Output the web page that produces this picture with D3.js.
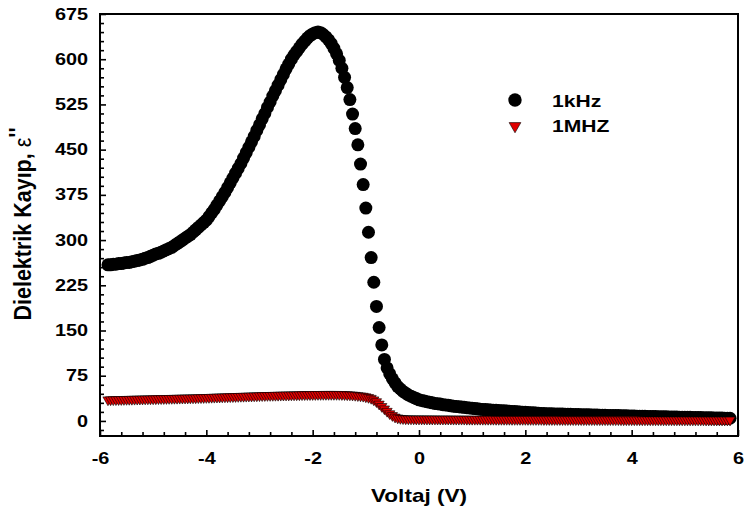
<!DOCTYPE html>
<html>
<head>
<meta charset="utf-8">
<script src="https://cdn.jsdelivr.net/npm/d3@7"></script>
<style>
  body { margin: 0; background: #fff; }
  text { font-family: "Liberation Sans", Arial, sans-serif; font-weight: bold; }
</style>
</head>
<body>
<div id="chart"></div>
<script>
// Voltage sweep (V)
const voltages = [
  -5.85, -5.8, -5.75, -5.7, -5.65, -5.6, -5.55, -5.5,
  -5.45, -5.4, -5.35, -5.3, -5.25, -5.2, -5.15, -5.1, -5.05, -5.0,
  -4.95, -4.9, -4.85, -4.8, -4.75, -4.7, -4.65, -4.6, -4.55, -4.5,
  -4.45, -4.4, -4.35, -4.3, -4.25, -4.2, -4.15, -4.1, -4.05, -4.0,
  -3.95, -3.9, -3.85, -3.8, -3.75, -3.7, -3.65, -3.6, -3.55, -3.5,
  -3.45, -3.4, -3.35, -3.3, -3.25, -3.2, -3.15, -3.1, -3.05, -3.0,
  -2.95, -2.9, -2.85, -2.8, -2.75, -2.7, -2.65, -2.6, -2.55, -2.5,
  -2.45, -2.4, -2.35, -2.3, -2.25, -2.2, -2.15, -2.1, -2.05, -2.0,
  -1.95, -1.9, -1.85, -1.8, -1.75, -1.7, -1.65, -1.6, -1.55, -1.5,
  -1.45, -1.4, -1.35, -1.3, -1.25, -1.2, -1.15, -1.1, -1.05, -1.0,
  -0.95, -0.9, -0.85, -0.8, -0.75, -0.7, -0.65, -0.6, -0.55, -0.5,
  -0.45, -0.4, -0.35, -0.3, -0.25, -0.2, -0.15, -0.1, -0.05, 0.0,
  0.05, 0.1, 0.15, 0.2, 0.25, 0.3, 0.35, 0.4, 0.45, 0.5,
  0.55, 0.6, 0.65, 0.7, 0.75, 0.8, 0.85, 0.9, 0.95, 1.0,
  1.05, 1.1, 1.15, 1.2, 1.25, 1.3, 1.35, 1.4, 1.45, 1.5,
  1.55, 1.6, 1.65, 1.7, 1.75, 1.8, 1.85, 1.9, 1.95, 2.0,
  2.05, 2.1, 2.15, 2.2, 2.25, 2.3, 2.35, 2.4, 2.45, 2.5,
  2.55, 2.6, 2.65, 2.7, 2.75, 2.8, 2.85, 2.9, 2.95, 3.0,
  3.05, 3.1, 3.15, 3.2, 3.25, 3.3, 3.35, 3.4, 3.45, 3.5,
  3.55, 3.6, 3.65, 3.7, 3.75, 3.8, 3.85, 3.9, 3.95, 4.0,
  4.05, 4.1, 4.15, 4.2, 4.25, 4.3, 4.35, 4.4, 4.45, 4.5,
  4.55, 4.6, 4.65, 4.7, 4.75, 4.8, 4.85, 4.9, 4.95, 5.0,
  5.05, 5.1, 5.15, 5.2, 5.25, 5.3, 5.35, 5.4, 5.45, 5.5,
  5.55, 5.6, 5.65, 5.7, 5.75, 5.8, 5.85
];

// Dielectric loss at 1 kHz
const loss1kHz = [
  259, 259, 260, 260, 261, 261, 262, 263,
  263, 264, 265, 266, 267, 268, 270, 271, 273, 275,
  277, 278, 280, 282, 284, 286, 288, 291, 294, 297,
  300, 303, 306, 309, 313, 317, 321, 325, 329, 333,
  339, 345, 351, 358, 365, 372, 379, 387, 395, 403,
  411, 419, 427, 436, 445, 454, 463, 472, 482, 491,
  501, 510, 520, 529, 539, 548, 557, 566, 575, 584,
  592, 600, 607, 613, 619, 625, 630, 635, 639, 642,
  644, 645, 644, 641, 637, 632, 626, 618, 609, 598,
  585, 570, 553, 533, 509, 485, 458, 426, 392, 353,
  313, 271, 230, 190, 155, 126, 102, 88, 78, 70,
  63, 57, 53, 49, 46, 43, 41, 39, 37, 35,
  34, 33, 32, 31, 30, 29, 28.5, 28, 27, 26.5,
  26, 25, 24.5, 24, 23.5, 23, 22.5, 22, 21.5, 21,
  20.5, 20, 19.5, 19, 18.8, 18.5, 18.2, 17.9, 17.6, 17.3,
  17.0, 16.7, 16.4, 16.1, 15.8, 15.5, 15.2, 14.9, 14.6, 14.3,
  14.0, 13.7, 13.4, 13.1, 12.8, 12.5, 12.2, 12.0, 11.9, 11.8,
  11.6, 11.5, 11.4, 11.3, 11.2, 11.0, 10.9, 10.8, 10.7, 10.6,
  10.4, 10.3, 10.2, 10.1, 10.0, 9.8, 9.7, 9.6, 9.5, 9.4,
  9.2, 9.1, 9.0, 8.9, 8.8, 8.6, 8.5, 8.4, 8.3, 8.2,
  8.0, 7.9, 7.8, 7.7, 7.6, 7.5, 7.4, 7.3, 7.2, 7.1,
  7.0, 6.9, 6.8, 6.7, 6.6, 6.5, 6.4, 6.3, 6.2, 6.1,
  6.0, 5.9, 5.8, 5.7, 5.6, 5.5, 5.4, 5.3, 5.2, 5.1,
  5.0, 4.9, 4.8, 4.7, 4.6, 4.5, 4.4
];

// Dielectric loss at 1 MHz
const loss1MHz = [
  35.0, 35.1, 35.2, 35.3, 35.4, 35.5, 35.6, 35.7,
  35.8, 35.9, 36.0, 36.1, 36.2, 36.3, 36.4, 36.5, 36.6, 36.7,
  36.8, 36.9, 37.0, 37.1, 37.2, 37.3, 37.4, 37.5, 37.6, 37.7,
  37.8, 37.9, 38.0, 38.1, 38.2, 38.3, 38.5, 38.6, 38.8, 38.9,
  39.0, 39.2, 39.3, 39.5, 39.6, 39.8, 39.9, 40.0, 40.2, 40.3,
  40.5, 40.6, 40.8, 40.9, 41.0, 41.2, 41.3, 41.5, 41.6, 41.8,
  42.0, 42.1, 42.2, 42.3, 42.4, 42.5, 42.6, 42.7, 42.8, 42.9,
  43.0, 43.1, 43.2, 43.3, 43.4, 43.5, 43.6, 43.7, 43.7, 43.8,
  43.8, 43.9, 43.9, 44.0, 44.0, 44.0, 44.0, 44.0, 44.0, 43.9,
  43.8, 43.6, 43.4, 43.2, 42.9, 42.5, 42.0, 41.5, 41.0, 40.0,
  39.0, 37.5, 35.0, 32.0, 28.0, 24.0, 20.0, 16.0, 12.0, 9.0,
  6.5, 5.0, 4.2, 3.8, 3.5, 3.4, 3.3, 3.3, 3.2, 3.2,
  3.2, 3.2, 3.1, 3.1, 3.1, 3.1, 3.0, 3.0, 3.0, 3.0,
  3.0, 3.0, 2.9, 2.9, 2.9, 2.9, 2.9, 2.8, 2.8, 2.8,
  2.8, 2.8, 2.8, 2.7, 2.7, 2.7, 2.7, 2.7, 2.6, 2.6,
  2.6, 2.6, 2.6, 2.6, 2.5, 2.5, 2.5, 2.5, 2.5, 2.5,
  2.4, 2.4, 2.4, 2.4, 2.4, 2.4, 2.3, 2.3, 2.3, 2.3,
  2.3, 2.3, 2.3, 2.2, 2.2, 2.2, 2.2, 2.2, 2.2, 2.2,
  2.1, 2.1, 2.1, 2.1, 2.1, 2.1, 2.1, 2.0, 2.0, 2.0,
  2.0, 2.0, 2.0, 2.0, 2.0, 1.9, 1.9, 1.9, 1.9, 1.9,
  1.9, 1.9, 1.9, 1.8, 1.8, 1.8, 1.8, 1.8, 1.8, 1.8,
  1.8, 1.7, 1.7, 1.7, 1.7, 1.7, 1.7, 1.7, 1.7, 1.6,
  1.6, 1.6, 1.6, 1.6, 1.6, 1.6, 1.6, 1.5, 1.5, 1.5,
  1.5, 1.5, 1.5, 1.5, 1.5, 1.5, 1.5
];

// Axis ticks and legend names
const xTicks = [-6, -4, -2, 0, 2, 4, 6];
const xMinorTicks = [-5.6, -5.2, -4.8, -4.4, -3.6, -3.2, -2.8, -2.4, -1.6, -1.2, -0.8, -0.4,
  0.4, 0.8, 1.2, 1.6, 2.4, 2.8, 3.2, 3.6, 4.4, 4.8, 5.2, 5.6];
const yTicks = [0, 75, 150, 225, 300, 375, 450, 525, 600, 675];
const yMinorTicks = [-15, 15, 30, 45, 60, 90, 105, 120, 135, 165, 180, 195, 210, 240, 255, 270, 285,
  315, 330, 345, 360, 390, 405, 420, 435, 465, 480, 495, 510, 540, 555, 570, 585, 615, 630, 645, 660];
const seriesNames = ["1kHz", "1MHZ"];

// chart size
const margin = {top: 14, right: 6, bottom: 77, left: 100};
const width = 744 - margin.left - margin.right;
const height = 513 - margin.top - margin.bottom;

// the original figure is a bit wider than plain Arial bold
const stretch = 1.24;

const svg = d3.select("#chart")
    .append("svg")
    .attr("width", width + margin.left + margin.right)
    .attr("height", height + margin.top + margin.bottom)
    .append("g")
    .attr("transform", `translate(${margin.left},${margin.top})`);

// scales
const x = d3.scaleLinear().domain([-6, 6]).range([0, width]);
const y = d3.scaleLinear().domain([-25, 675]).range([height, 0]);

const data1k = voltages.map((v, i) => ({v: v, e: loss1kHz[i]}));
const data1M = voltages.map((v, i) => ({v: v, e: loss1MHz[i]}));

// 1 kHz circles
svg.append("g")
    .selectAll("circle")
    .data(data1k)
    .join("circle")
    .attr("cx", d => x(d.v))
    .attr("cy", d => y(d.e))
    .attr("r", 6.5)
    .attr("fill", "#000");

// 1 MHz down triangles
const tri = d3.symbol().type(d3.symbolTriangle).size(45);
svg.append("g")
    .selectAll("path")
    .data(data1M)
    .join("path")
    .attr("d", tri)
    .attr("transform", d => `translate(${x(d.v)},${y(d.e)}) rotate(180)`)
    .attr("fill", "#e00000")
    .attr("stroke", "#000")
    .attr("stroke-width", 0.6);

// axes (ticks inside), plain hyphen for minus
const fmt = d => String(d);
svg.append("g")
    .call(d3.axisLeft(y).tickValues(yTicks).tickSize(-6).tickPadding(12).tickFormat(fmt));
svg.append("g")
    .call(d3.axisLeft(y).tickValues(yMinorTicks).tickSize(-4).tickFormat(""));
svg.append("g")
    .attr("transform", `translate(0,${height})`)
    .call(d3.axisBottom(x).tickValues(xTicks).tickSize(-6).tickPadding(17).tickFormat(fmt));
svg.append("g")
    .attr("transform", `translate(0,${height})`)
    .call(d3.axisBottom(x).tickValues(xMinorTicks).tickSize(-4).tickFormat(""));

svg.selectAll(".domain").remove();
svg.selectAll(".tick line").attr("stroke", "#000").attr("stroke-width", 1.6);
svg.selectAll(".tick text")
    .attr("fill", "#000")
    .style("font-size", "16px");

// frame
svg.append("rect")
    .attr("width", width)
    .attr("height", height)
    .attr("fill", "none")
    .attr("stroke", "#000")
    .attr("stroke-width", 2);

// axis titles
svg.append("text")
    .attr("x", width / 2)
    .attr("y", height + 66)
    .attr("text-anchor", "middle")
    .style("font-size", "19px")
    .text("Voltaj (V)");

const yTitle = svg.append("text")
    .attr("transform", `translate(-69,${224 - margin.top}) rotate(-90) scale(1,1.15)`)
    .attr("text-anchor", "middle")
    .style("font-size", "21.5px");
yTitle.append("tspan").text("Dielektrik Kayıp, ");
yTitle.append("tspan").style("font-weight", "normal").text("ε");
yTitle.append("tspan").attr("dy", -4).text("''");

// legend
const legend = svg.append("g").attr("transform", `translate(${515 - margin.left},0)`);
legend.append("circle")
    .attr("cx", 0)
    .attr("cy", 100 - margin.top)
    .attr("r", 6.7)
    .attr("fill", "#000");
legend.append("path")
    .attr("d", d3.symbol().type(d3.symbolTriangle).size(60))
    .attr("transform", `translate(0,${126 - margin.top}) rotate(180)`)
    .attr("fill", "#e00000")
    .attr("stroke", "#000")
    .attr("stroke-width", 0.6);
legend.selectAll("text.leg")
    .data(seriesNames)
    .join("text")
    .attr("class", "leg")
    .attr("x", 37)
    .attr("y", (d, i) => (i === 0 ? 106.5 : 131.5) - margin.top)
    .style("font-size", "17px")
    .text(d => d);

// widen horizontal labels to match the original
svg.selectAll(".tick text, text.leg").each(function() {
    const w = this.getComputedTextLength();
    d3.select(this).attr("textLength", w * stretch).attr("lengthAdjust", "spacingAndGlyphs");
});
svg.selectAll("text").filter(function() { return this.textContent === "Voltaj (V)"; })
    .attr("textLength", 96).attr("lengthAdjust", "spacingAndGlyphs");
</script>
</body>
</html>
